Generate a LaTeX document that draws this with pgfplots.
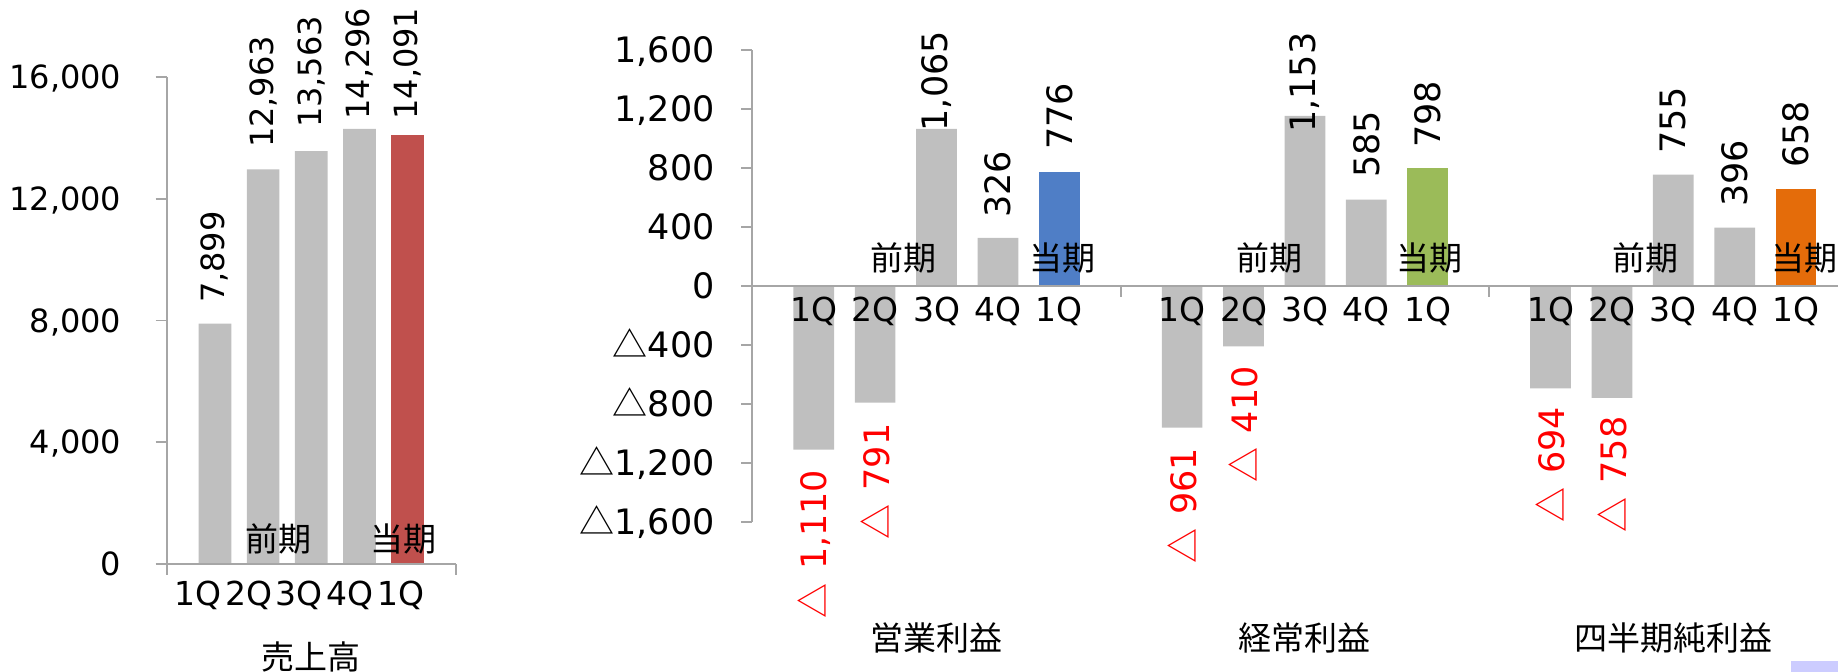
\documentclass[border=0pt]{standalone}
\usepackage{fontspec}
\setmainfont{DejaVu Sans}
\newfontfamily\cjk{Noto Sans CJK JP}
\usepackage{pgfplots}
\pgfplotsset{compat=1.18}
\definecolor{barGray}{HTML}{BFBFBF}
\definecolor{axisGray}{HTML}{A6A6A6}
\definecolor{salesRed}{HTML}{C0504D}
\definecolor{opBlue}{HTML}{4F7EC6}
\definecolor{ordGreen}{HTML}{9BBB59}
\definecolor{netOrange}{HTML}{E46C0A}
\definecolor{lav}{HTML}{CCCCFF}
\newcommand{\fsA}{\fontsize{16pt}{16pt}\selectfont}
\newcommand{\fsB}{\fontsize{17.5pt}{17.5pt}\selectfont}
\newcommand{\fsC}{\fontsize{16.5pt}{16.5pt}\selectfont}
\newcommand{\fsJ}{\fontsize{16.5pt}{16.5pt}\selectfont\cjk}
\begin{document}
\begin{tikzpicture}
\useasboundingbox (0,0) rectangle (919pt,336pt);
% ---------------- 売上高 ----------------
\begin{axis}[
  at={(83.35pt,54pt)}, anchor=south west,
  scale only axis, width=144.65pt, height=243.5pt,
  xmin=0, xmax=6, ymin=0, ymax=16000,
  axis on top,
  axis x line=bottom, axis y line=left,
  axis line style={-, draw=axisGray, line width=0.9pt},
  hide obscured x ticks=false, hide obscured y ticks=false,
  scaled y ticks=false,
  tick align=outside, major tick length=5.5pt,
  tick style={draw=axisGray, line width=0.9pt},
  ytick={0,4000,8000,12000,16000},
  yticklabels={0,{4,000},{8,000},{12,000},{16,000}},
  yticklabel style={anchor=east, inner sep=0pt, text height=11.66pt, text depth=0pt, font=\fsA, xshift=-17pt},
  xtick={0,6}, xticklabels={,},
  xticklabel style={anchor=north, inner sep=0pt, font=\fsC, yshift=-8.3pt},
  extra x ticks={0.656,1.698,2.746,3.798,4.862},
  extra x tick labels={1Q,2Q,3Q,4Q,1Q},
  extra x tick style={major tick length=0pt},
  clip=false,
]
\addplot[ybar, bar width=16.35pt, bar shift=0pt, fill=barGray, draw=none]
  coordinates {(1,7899) (2,12963) (3,13563) (4,14296)};
\addplot[ybar, bar width=16.35pt, bar shift=0pt, fill=salesRed, draw=none]
  coordinates {(5,14091)};
\addplot[draw=none, mark=none, point meta=explicit symbolic,
  nodes near coords={\pgfplotspointmeta},
  every node near coord/.append style={rotate=90, anchor=west, inner sep=0pt, font=\fsA, text=black}]
  table[x=x, y=y, meta=l] {
x y l
1 8565 7,899
2 13657 12,963
3 14314 13,563
4 14587 14,296
5 14587 14,091
};
\node[anchor=south, inner sep=0pt, font=\fsJ] at (axis cs:2.32,319) {前期};
\node[anchor=south, inner sep=0pt, font=\fsJ] at (axis cs:4.92,319) {当期};
\node[anchor=north, inner sep=0pt, font=\fsJ] at (axis cs:3,-2530) {売上高};
\end{axis}
% ---------------- 利益 ----------------
\begin{axis}[
  at={(376.15pt,75pt)}, anchor=south west,
  scale only axis, width=542.78pt, height=236pt,
  xmin=0, xmax=17.68, ymin=-1600, ymax=1600,
  axis on top,
  axis x line=middle, axis y line=left,
  axis line style={-, draw=axisGray, line width=0.9pt},
  hide obscured x ticks=false, hide obscured y ticks=false,
  scaled y ticks=false,
  tick align=outside, major tick length=5.5pt,
  tick style={draw=axisGray, line width=0.9pt},
  ytick={-1600,-1200,-800,-400,0,400,800,1200,1600},
  yticklabels={{{\cjk △}1,600},{{\cjk △}1,200},{{\cjk △}800},{{\cjk △}400},0,400,800,{1,200},{1,600}},
  yticklabel style={anchor=east, inner sep=0pt, text height=12.76pt, text depth=0pt, font=\fsB, xshift=-13.15pt},
  xtick={0,6,12}, xticklabels={,,},
  xticklabel style={anchor=north, inner sep=0pt, font=\fsC, yshift=-5.35pt},
  extra x ticks={1,2,3,4,5,7,8,9,10,11,13,14,15,16,17},
  extra x tick labels={1Q,2Q,3Q,4Q,1Q,1Q,2Q,3Q,4Q,1Q,1Q,2Q,3Q,4Q,1Q},
  extra x tick style={major tick length=0pt},
  clip=false,
]
\addplot[ybar, bar width=20.35pt, bar shift=0pt, fill=barGray, draw=none]
  coordinates {(1,-1110) (2,-791) (3,1065) (4,326)
               (7,-961) (8,-410) (9,1153) (10,585)
               (13,-694) (14,-758) (15,755) (16,396)};
\addplot[ybar, bar width=20.35pt, bar shift=0pt, fill=opBlue, draw=none]
  coordinates {(5,776)};
\addplot[ybar, bar width=20.35pt, bar shift=0pt, fill=ordGreen, draw=none]
  coordinates {(11,798)};
\addplot[ybar, bar width=20.35pt, bar shift=0pt, fill=netOrange, draw=none]
  coordinates {(17,658)};
% positive value labels
\addplot[draw=none, mark=none, point meta=explicit symbolic,
  nodes near coords={\pgfplotspointmeta},
  every node near coord/.append style={rotate=90, anchor=west, inner sep=0pt, font=\fsB, text=black}]
  table[x=x, y=y, meta=l] {
x y l
3 1046 1,065
4 459 326
5 922 776
9 1036 1,153
10 730 585
11 934 798
15 895 755
16 534 396
17 798 658
};
% negative value labels
\addplot[draw=none, mark=none, point meta=explicit symbolic,
  nodes near coords={{\cjk △}\hspace{0.4em}\pgfplotspointmeta},
  every node near coord/.append style={rotate=90, anchor=east, inner sep=0pt, font=\fsB, text=red}]
  table[x=x, y=y, meta=l] {
x y l
1 -1243 1,110
2 -931 791
7 -1096 961
8 -542 410
13 -818 694
14 -882 758
};
\node[anchor=south, inner sep=0pt, font=\fsJ] at (axis cs:2.47,86) {前期};
\node[anchor=south, inner sep=0pt, font=\fsJ] at (axis cs:5.06,86) {当期};
\node[anchor=south, inner sep=0pt, font=\fsJ] at (axis cs:8.43,86) {前期};
\node[anchor=south, inner sep=0pt, font=\fsJ] at (axis cs:11.03,86) {当期};
\node[anchor=south, inner sep=0pt, font=\fsJ] at (axis cs:14.55,86) {前期};
\node[anchor=south, inner sep=0pt, font=\fsJ] at (axis cs:17.13,86) {当期};
\node[anchor=north, inner sep=0pt, font=\fsJ] at (axis cs:3,-2280) {営業利益};
\node[anchor=north, inner sep=0pt, font=\fsJ] at (axis cs:9,-2280) {経常利益};
\node[anchor=north, inner sep=0pt, font=\fsJ] at (axis cs:15,-2280) {四半期純利益};
\end{axis}
\fill[lav] (895.5pt,0pt) rectangle (919pt,5.5pt);
\end{tikzpicture}
\end{document}
